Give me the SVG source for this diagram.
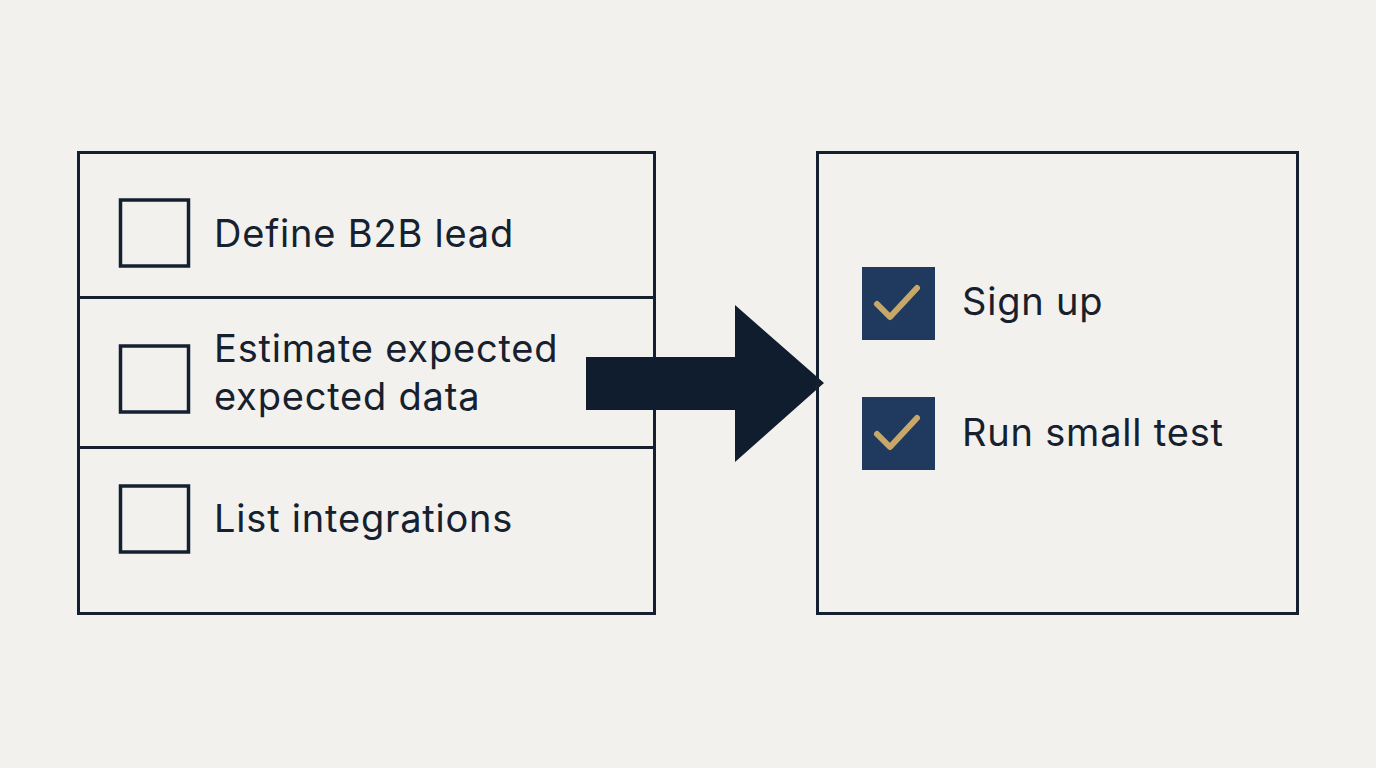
<svg xmlns="http://www.w3.org/2000/svg" width="1376" height="768" viewBox="0 0 1376 768">
<style>
.frame{fill:none;stroke:#142030;stroke-width:3}
.box{fill:none;stroke:#142030;stroke-width:3.5}
.chk{fill:#1f3a5e}
.tick{fill:none;stroke:#c8a868;stroke-width:6;stroke-linecap:round;stroke-linejoin:round}
.lbl{font-family:Inter,"Liberation Sans",sans-serif;font-size:38px;letter-spacing:0.8px;fill:#16202e}
</style>
<rect width="1376" height="768" fill="#f2f1ed"/>
<g id="todo-panel">
<rect class="frame" x="78.5" y="152.5" width="576" height="461"/>
<line class="frame" x1="78" y1="297.5" x2="654" y2="297.5"/>
<line class="frame" x1="78" y1="447.5" x2="654" y2="447.5"/>
</g>
<g id="item-define">
<rect class="box" x="120.5" y="200" width="68" height="66"/>
<text class="lbl" x="214" y="247">Define B2B lead</text>
</g>
<g id="item-estimate">
<rect class="box" x="120.5" y="346" width="68" height="66"/>
<text class="lbl" x="214" y="362">Estimate expected</text>
<text class="lbl" x="214" y="410">expected data</text>
</g>
<g id="item-list">
<rect class="box" x="120.5" y="486" width="68" height="66"/>
<text class="lbl" x="214" y="532">List integrations</text>
</g>
<g id="connectors">
<polygon fill="#0f1d2e" points="586,357 735,357 735,305 824,383 735,462 735,410 586,410"/>
</g>
<g id="done-panel">
<rect class="frame" x="817.5" y="152.5" width="480" height="461"/>
</g>
<g id="item-signup">
<rect class="chk" x="862" y="267" width="73" height="73"/>
<polyline class="tick" points="877,304 890,317 917,288"/>
<text class="lbl" x="962" y="315">Sign up</text>
</g>
<g id="item-test">
<rect class="chk" x="862" y="397" width="73" height="73"/>
<polyline class="tick" points="877,434 890,447 917,418"/>
<text class="lbl" x="962" y="446">Run small test</text>
</g>
</svg>
